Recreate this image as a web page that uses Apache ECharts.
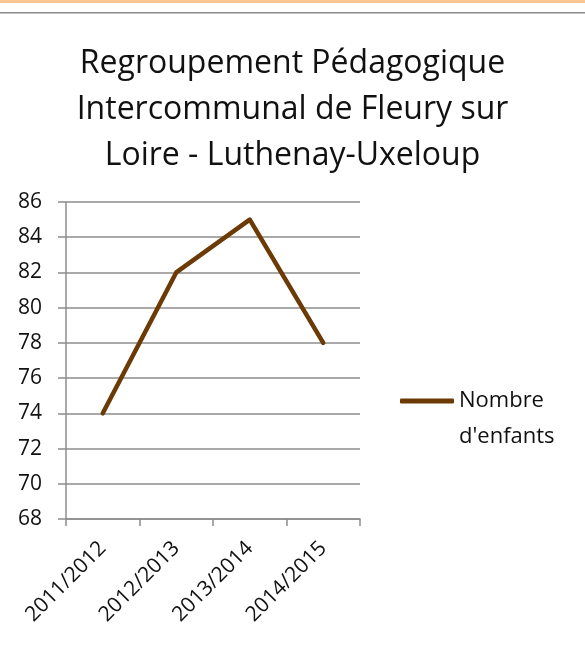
<!DOCTYPE html>
<html>
<head>
<meta charset="utf-8">
<script src="https://cdn.jsdelivr.net/npm/echarts@6/dist/echarts.min.js"></script>
<style>
  html, body { margin: 0; padding: 0; background: #fff; }
  #chart { width: 585px; height: 651px; }
</style>
</head>
<body>
<div id="chart"></div>
<script>
const titleLines = ['Regroupement Pédagogique', 'Intercommunal de Fleury sur', 'Loire - Luthenay-Uxeloup']
const categories = ['2011/2012', '2012/2013', '2013/2014', '2014/2015']
const enfants = [74, 82, 85, 78]
const seriesName = "Nombre\nd'enfants"

const font = '"Open Sans", "DejaVu Sans", sans-serif'
const gridColor = '#8c8c8c'
const lineColor = '#6b3a05'

const chart = echarts.init(document.getElementById('chart'), null, { renderer: 'canvas' })

chart.setOption({
  backgroundColor: '#fff',
  animation: false,
  graphic: [
    { type: 'rect', shape: { x: 0, y: 0, width: 585, height: 3 }, style: { fill: '#fdc594' } },
    { type: 'rect', shape: { x: 0, y: 12, width: 585, height: 1.5 }, style: { fill: '#8a8a8a' } },
  ],
  title: {
    text: titleLines.join('\n'),
    left: 'center',
    top: 36,
    textStyle: {
      fontFamily: font,
      fontWeight: 'normal',
      fontSize: 32,
      lineHeight: 46,
      color: '#111',
    },
  },
  grid: {
    left: 66,
    right: 225,
    top: 202,
    bottom: 132,
    containLabel: false,
  },
  legend: {
    left: 400,
    top: 347,
    padding: 0,
    itemWidth: 54,
    itemHeight: 5,
    data: [{ name: seriesName, icon: 'roundRect' }],
    // blank first line keeps the legend line level with "Nombre"
    formatter: name => ' \n' + name,
    textStyle: {
      fontFamily: font,
      fontSize: 22,
      lineHeight: 36,
      color: '#111',
    },
  },
  xAxis: {
    type: 'category',
    data: categories,
    boundaryGap: true,
    axisLine: { lineStyle: { color: gridColor, width: 1.5 } },
    axisTick: { show: true, length: 7, lineStyle: { color: gridColor, width: 1.5 } },
    axisLabel: {
      rotate: 45,
      margin: 26,
      fontFamily: font,
      fontSize: 21,
      color: '#111',
    },
  },
  yAxis: {
    type: 'value',
    min: 68,
    max: 86,
    interval: 2,
    axisLine: { show: true, lineStyle: { color: gridColor, width: 1.5 } },
    axisTick: { show: true, length: 8, lineStyle: { color: gridColor, width: 1.5 } },
    splitLine: { show: true, lineStyle: { color: gridColor, width: 1.5 } },
    axisLabel: {
      margin: 24,
      fontFamily: font,
      fontSize: 21,
      color: '#111',
    },
  },
  series: [
    {
      name: seriesName,
      type: 'line',
      data: enfants,
      symbol: 'none',
      lineStyle: { color: lineColor, width: 4.5, cap: 'round', join: 'round' },
      itemStyle: { color: lineColor },
    },
  ],
})
</script>
</body>
</html>
